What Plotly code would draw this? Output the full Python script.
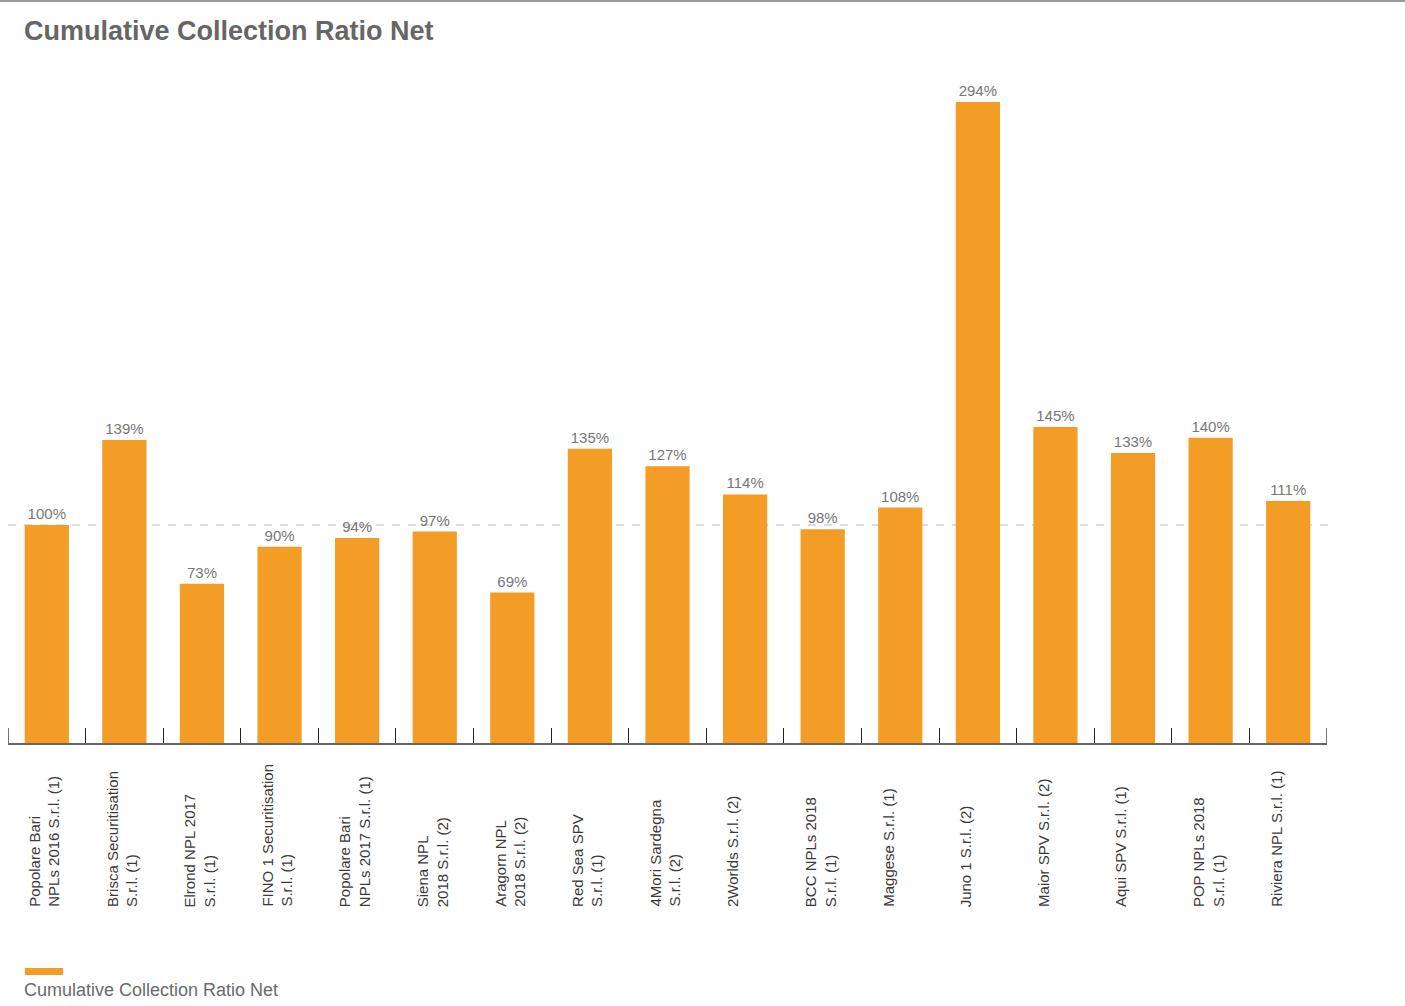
import plotly.graph_objects as go

categories = [
    "Popolare Bari<br>NPLs 2016 S.r.l. (1)",
    "Brisca Securitisation<br>S.r.l. (1)",
    "Elrond NPL 2017<br>S.r.l. (1)",
    "FINO 1 Securitisation<br>S.r.l. (1)",
    "Popolare Bari<br>NPLs 2017 S.r.l. (1)",
    "Siena NPL<br>2018 S.r.l. (2)",
    "Aragorn NPL<br>2018 S.r.l. (2)",
    "Red Sea SPV<br>S.r.l. (1)",
    "4Mori Sardegna<br>S.r.l. (2)",
    "2Worlds S.r.l. (2)",
    "BCC NPLs 2018<br>S.r.l. (1)",
    "Maggese S.r.l. (1)",
    "Juno 1 S.r.l. (2)",
    "Maior SPV S.r.l. (2)",
    "Aqui SPV S.r.l. (1)",
    "POP NPLs 2018<br>S.r.l. (1)",
    "Riviera NPL S.r.l. (1)",
]
values = [100, 139, 73, 90, 94, 97, 69, 135, 127, 114, 98, 108, 294, 145, 133, 140, 111]
series_name = "Cumulative Collection Ratio Net"
title_text = "Cumulative Collection Ratio Net"
reference_level = 100

ORANGE = "#F39C26"
FONT = "Liberation Sans, Arial, Helvetica, sans-serif"

W, H = 1405, 1006
ML, MR, MT, MB = 8, W - 1327, 80, H - 743
plot_w = W - ML - MR
plot_h = H - MT - MB
PX_PER_UNIT = 2.18
TICKLEN = 15

n = len(categories)

fig = go.Figure()
fig.add_trace(go.Bar(
    x=list(range(n)),
    y=values,
    marker=dict(color=ORANGE, line=dict(width=0)),
    text=[f"{v}%" for v in values],
    textposition="outside",
    textfont=dict(family=FONT, size=15, color="#777777"),
    cliponaxis=False,
    name=series_name,
    showlegend=False,
))

annotations = []
for i, lab in enumerate(categories):
    annotations.append(dict(
        x=i, xref="x", xshift=-23,
        y=(743 - 909) / plot_h, yref="paper",
        text=lab, textangle=-90, showarrow=False,
        xanchor="left", yanchor="bottom", align="left",
        font=dict(family=FONT, size=15, color="#3a3a3a"),
    ))

# title
annotations.append(dict(
    x=(25 - ML) / plot_w, xref="paper", y=(743 - 31) / plot_h, yref="paper",
    text=f"<b>{title_text}</b>", showarrow=False, xanchor="left", yanchor="middle",
    font=dict(family=FONT, size=27, color="#666666"), xshift=-3,
))
# legend text
annotations.append(dict(
    x=(25 - ML) / plot_w, xref="paper", y=(743 - 990) / plot_h, yref="paper",
    text=series_name, showarrow=False, xanchor="left", yanchor="middle",
    font=dict(family=FONT, size=18, color="#6a6a6a"), xshift=-3,
))

shapes = [
    # top rule
    dict(type="line", xref="paper", yref="paper",
         x0=-ML / plot_w, x1=(W - ML) / plot_w,
         y0=(743 - 1) / plot_h, y1=(743 - 1) / plot_h,
         line=dict(color="#999999", width=2)),
    # reference dashed line at 100%
    dict(type="line", xref="paper", yref="y", x0=0, x1=1.002,
         y0=reference_level, y1=reference_level,
         line=dict(color="#dddddd", width=2, dash="8px,8px"), layer="below"),
    # legend swatch
    dict(type="rect", xref="paper", yref="paper",
         x0=(25 - ML) / plot_w, x1=(63 - ML) / plot_w,
         y0=(743 - 968) / plot_h, y1=(743 - 975) / plot_h,
         fillcolor=ORANGE, line=dict(width=0)),
]
# end ticks of the category axis (plotly clips inside ticks at the plot edges)
for xb in (-0.5, n - 0.5):
    shapes.append(dict(type="line", xref="x", yref="y", x0=xb, x1=xb,
                       y0=0, y1=TICKLEN / PX_PER_UNIT,
                       line=dict(color="#444444", width=1.5)))

fig.update_layout(
    width=W, height=H,
    margin=dict(l=ML, r=MR, t=MT, b=MB),
    paper_bgcolor="white", plot_bgcolor="white",
    bargap=0.43,
    font=dict(family=FONT),
    xaxis=dict(
        range=[-0.5, n - 0.5],
        tickmode="array",
        tickvals=[i - 0.5 for i in range(n + 1)],
        ticktext=[""] * (n + 1),
        ticks="inside", ticklen=TICKLEN, tickcolor="#222222", tickwidth=1,
        showline=True, linecolor="#666666", linewidth=2,
        showgrid=False, zeroline=False, fixedrange=True,
    ),
    yaxis=dict(range=[0, plot_h / PX_PER_UNIT], visible=False, showgrid=False, zeroline=False),
    annotations=annotations,
    shapes=shapes,
    showlegend=False,
)

fig.write_html("out.html")
